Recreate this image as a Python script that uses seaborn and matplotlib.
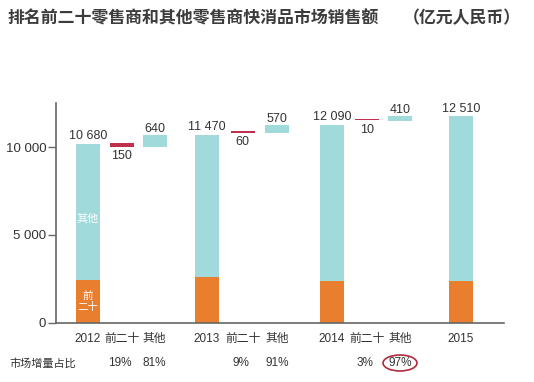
import matplotlib
matplotlib.use("Agg")
import matplotlib.pyplot as plt
from matplotlib.patches import Ellipse
from matplotlib.transforms import blended_transform_factory
import seaborn as sns
import pandas as pd

# --------------------------
# Data
# --------------------------
years = ["2012", "2013", "2014", "2015"]
total_labels = ["10 680", "11 470", "12 090", "12 510"]
total_drawn = [10200, 10700, 11270, 11750]   # bar heights as drawn (chart is not to scale)
top20_drawn = [2430, 2590, 2390, 2390]

gain_top20_labels = ["150", "60", "10"]
gain_top20_base = [10030, 10830, 11545]
gain_top20_size = [230, 115, 45]

gain_other_labels = ["640", "570", "410"]
gain_other_base = [10030, 10795, 11500]
gain_other_size = [670, 475, 280]

share_top20 = ["19%", "9%", "3%"]
share_other = ["81%", "91%", "97%"]

tick_labels = ["2012", "前二十", "其他", "2013", "前二十", "其他",
               "2014", "前二十", "其他", "2015"]

# --------------------------
# Layout / style
# --------------------------
slot_x = [88, 122, 154.5, 207, 242.5, 277, 332, 367, 400, 461]
year_x = slot_x[0::3]
top20_x = slot_x[1:9:3]
other_x = slot_x[2:9:3]
BAR_W = 24

CYAN = "#a0dadb"
ORANGE = "#e97e2e"
RED = "#c0304b"
TEXT = "#333333"
AXIS = "#666666"

sns.set_theme(style="white")
plt.rcParams["font.family"] = ["Liberation Sans", "Noto Sans CJK SC"]

W, H = 534, 382
fig = plt.figure(figsize=(W / 100, H / 100), dpi=100)
ax = fig.add_axes([56 / W, 1 - 322.7 / H, (504 - 56) / W, (322.7 - 103.3) / H])

df = pd.DataFrame({"x": year_x, "total": total_drawn, "top20": top20_drawn})
frac = BAR_W / (year_x[1] - year_x[0])
sns.barplot(data=df, x="x", y="total", native_scale=True, width=frac,
            color=CYAN, saturation=1, errorbar=None, linewidth=0, ax=ax)
sns.barplot(data=df, x="x", y="top20", native_scale=True, width=frac,
            color=ORANGE, saturation=1, errorbar=None, linewidth=0, ax=ax)

# floating increments
ax.bar(top20_x, gain_top20_size, bottom=gain_top20_base, width=BAR_W,
       color=RED, linewidth=0)
ax.bar(other_x, gain_other_size, bottom=gain_other_base, width=BAR_W,
       color=CYAN, linewidth=0)

# value labels
for x, y, s in zip(year_x, total_drawn, total_labels):
    ax.annotate(s, (x, y), xytext=(0, 3.5), textcoords="offset points",
                ha="center", va="baseline", fontsize=9, color=TEXT)
for x, b, h, s in zip(top20_x, gain_top20_base, gain_top20_size, gain_top20_labels):
    ax.annotate(s, (x, b), xytext=(0, -2.5), textcoords="offset points",
                ha="center", va="top", fontsize=9, color=TEXT)
for x, b, h, s in zip(other_x, gain_other_base, gain_other_size, gain_other_labels):
    ax.annotate(s, (x, b + h), xytext=(0, 2), textcoords="offset points",
                ha="center", va="baseline", fontsize=9, color=TEXT)

# labels inside the 2012 bar
ax.text(year_x[0], 5900, "其他", color="white", fontsize=8,
        ha="center", va="center")
ax.text(year_x[0], top20_drawn[0] / 2, "前\n二十", color="white", fontsize=7.5,
        ha="center", va="center", linespacing=1.1)

# axes
ax.set_xlim(56, 504)
ax.set_ylim(0, 12500)
ax.set_yticks([0, 5000, 10000], ["0", "5 000", "10 000"])
ax.set_xticks(slot_x, tick_labels)
ax.set_xlabel("")
ax.set_ylabel("")
ax.tick_params(axis="y", length=6, width=1, color=AXIS, labelsize=9.5,
               labelcolor=TEXT, pad=1, direction="out", left=True)
ax.tick_params(axis="x", length=0, labelsize=8.5, labelcolor=TEXT, pad=7.5)
sns.despine(ax=ax)
for side in ["left", "bottom"]:
    ax.spines[side].set_color(AXIS)
    ax.spines[side].set_linewidth(1.2)

# share row
row_y = 1 - 363 / H
trans = blended_transform_factory(ax.transData, fig.transFigure)
fig.text(9 / W, row_y, "市场增量占比", fontsize=8, color=TEXT, ha="left", va="center")
for x, s in zip(top20_x, share_top20):
    ax.text(x - 2, row_y, s, transform=trans, fontsize=8.5, color=TEXT,
            ha="center", va="center", clip_on=False)
for x, s in zip(other_x, share_other):
    ax.text(x, row_y, s, transform=trans, fontsize=8.5, color=TEXT,
            ha="center", va="center", clip_on=False)
ax.add_patch(Ellipse((other_x[2], row_y), 34, 16 / H, transform=trans,
                     fill=False, edgecolor="#b22a3c", linewidth=1.2, clip_on=False))

# title
fig.text(8 / W, 1 - 18.3 / H, "排名前二十零售商和其他零售商快消品市场销售额",
         fontsize=12.2, fontweight="bold", color="#3c3c3c", ha="left", va="center",
         family=["Noto Sans CJK SC"])
fig.text(403 / W, 1 - 18.3 / H, "（亿元人民币）",
         fontsize=12.2, fontweight="bold", color="#3c3c3c", ha="left", va="center",
         family=["Noto Sans CJK SC"])

fig.savefig("out.png", dpi=100)
